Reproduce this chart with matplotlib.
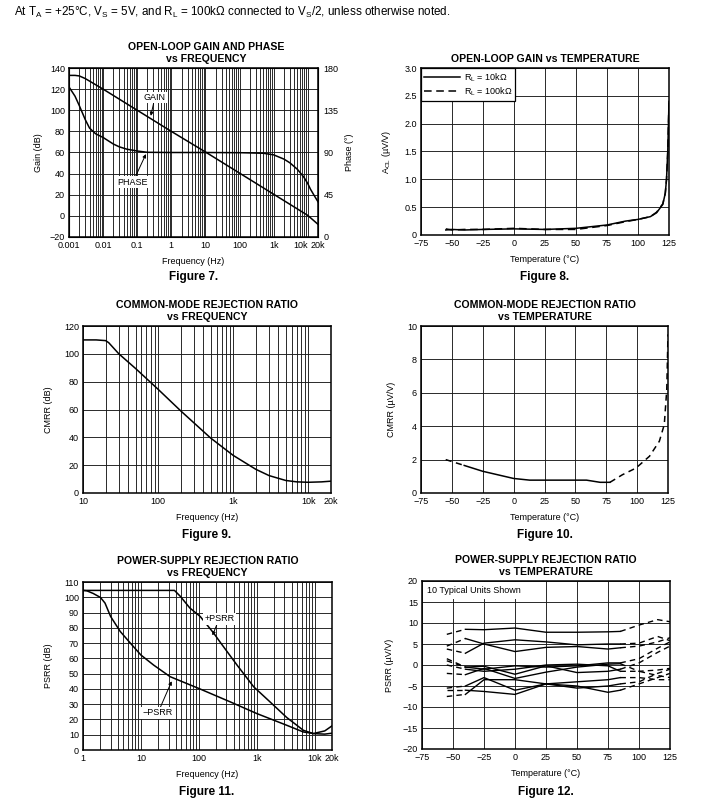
import matplotlib
matplotlib.use("Agg")
import matplotlib.pyplot as plt
from matplotlib.ticker import LogLocator, NullFormatter

plt.rcParams['font.family'] = ['Liberation Sans', 'DejaVu Sans']
plt.rcParams['mathtext.fontset'] = 'custom'
plt.rcParams['mathtext.rm'] = 'Liberation Sans'

# ---- Figure 7: open-loop gain and phase vs frequency
f7_gain = [0.001, 0.0015, 0.002, 0.003, 0.01, 0.1, 1, 10, 100, 1000, 10000, 20000]
gain7 = [133, 133, 132.5, 130, 120, 100, 80, 60.5, 40.5, 20.5, 0.5, -8]
f7_phase = [0.001, 0.0015, 0.002, 0.003, 0.004, 0.006, 0.01, 0.02, 0.03, 0.05, 0.1, 0.2,
            1, 10, 100, 500, 1000, 2000, 3000, 5000, 7600, 10000, 12000, 15000, 20000]
phase7 = [159.8, 150, 140, 125, 116, 110, 106, 99, 96, 93.5, 91.6, 90.2,
          90, 90, 89.8, 89.2, 87.5, 83, 79, 72, 64, 57, 51, 45, 37.5]
f7_ticks = [0.001, 0.01, 0.1, 1, 10, 100, 1000, 10000, 20000]
f7_labels = ['0.001', '0.01', '0.1', '1', '10', '100', '1k', '10k', '20k']

# ---- Figure 8: open-loop gain vs temperature
t8 = [-55, -50, -40, -25, 0, 25, 50, 75, 90, 100, 110, 115, 120, 122, 123, 124, 125]
aol_10k = [0.09, 0.1, 0.09, 0.1, 0.11, 0.1, 0.12, 0.18, 0.25, 0.28, 0.33, 0.4, 0.55, 0.75, 1.0, 1.5, 2.4]
aol_100k = [0.11, 0.09, 0.1, 0.1, 0.12, 0.1, 0.1, 0.17, 0.24, 0.28, 0.33, 0.41, 0.56, 0.75, 1.0, 1.5, 2.4]

# ---- Figure 9: CMRR vs frequency
f9 = [10, 15, 20, 22, 30, 50, 100, 200, 500, 1000, 2000, 3000, 5000, 7000, 10000, 15000, 20000]
cmrr9 = [110, 110, 109.5, 108, 100, 89.5, 74.5, 59, 39.5, 27, 17, 12.5, 9, 8, 7.7, 8, 8.5]

# ---- Figure 10: CMRR vs temperature
t10 = [-55, -40, -25, 0, 13, 59, 70, 78, 88, 99, 110, 118, 122, 124, 125]
cmrr10 = [2.0, 1.65, 1.3, 0.87, 0.77, 0.77, 0.64, 0.64, 1.09, 1.49, 2.2, 3.1, 4.1, 6.2, 9.5]

# ---- Figure 11: PSRR vs frequency
f11_plus = [1, 10, 38, 48, 70, 106, 181, 235, 458, 887, 1700, 3300, 6400, 9600, 15000, 20000]
psrr_plus = [104.5, 104.5, 104.5, 100.6, 93, 87.4, 76.5, 70.5, 55.6, 41.4, 31.5, 21.3, 12.9, 10.7, 10.4, 11]
f11_minus = [1, 1.17, 1.5, 2, 2.4, 3, 4.4, 6.6, 10, 16.6, 32, 106, 350, 1000, 3300, 6400, 9600, 15000, 20000]
psrr_minus = [104.5, 104.2, 102.5, 99.9, 96.2, 87.4, 77.6, 69.9, 62.2, 55.6, 48, 39.9, 31.5, 23.9,
              16.2, 11.8, 10.8, 12.5, 15.8]

# ---- Figure 12: PSRR vs temperature, 10 units
t12 = [-55, -40, -25, 0, 25, 50, 75, 85, 100, 115, 125]
units12 = [
    [7.3, 8.5, 8.4, 8.8, 7.8, 7.8, 7.9, 8.0, 9.5, 10.8, 10.3],
    [4.5, 6.3, 5.0, 3.2, 4.2, 4.4, 3.8, 4.1, 4.5, 5.5, 6.5],
    [3.8, 2.8, 5.2, 6.0, 5.5, 4.8, 5.0, 5.0, 5.2, 6.8, 5.8],
    [1.5, -0.5, -1.0, -0.2, -0.5, -0.2, 0.5, 0.5, 1.5, 4.0, 5.5],
    [1.0, -0.5, -0.3, -2.2, -0.2, -1.8, -1.5, -1.0, 0.5, 3.0, 4.5],
    [-2.0, -2.3, -0.8, -3.2, -1.7, -0.5, 0.2, 0.3, -1.5, -1.2, -0.8],
    [0.0, -1.0, -1.5, -1.0, 0.0, 0.2, -0.2, -1.5, -1.5, -2.5, -3.0],
    [-5.5, -5.0, -3.0, -6.0, -4.5, -5.0, -6.5, -6.0, -4.5, -3.0, -2.0],
    [-7.5, -7.0, -3.5, -3.5, -4.5, -4.0, -3.5, -3.0, -3.0, -3.5, -3.5],
    [-6.0, -6.0, -6.3, -7.0, -4.5, -5.5, -5.0, -4.5, -4.0, -2.0, -1.0],
]

temp_ticks = [-75, -50, -25, 0, 25, 50, 75, 100, 125]
temp_labels = ['−75', '−50', '−25', '0', '25', '50', '75', '100', '125']

TICK = 6.5
LAB = 6.5
TITLE = 7.6
CAP = 8.5
LW = 1.1
GRID_C = '#1a1a1a'

W, H = 701, 808
fig = plt.figure(figsize=(W / 100, H / 100), dpi=100)


def make_ax(x0, y0, x1, y1):
    # pixel box (top-left origin) -> figure axes
    return fig.add_axes([x0 / W, 1 - y1 / H, (x1 - x0) / W, (y1 - y0) / H])


def style(ax, title, tx=0.5):
    ax.set_title(title, fontsize=TITLE, fontweight='bold', pad=4, linespacing=1.25, x=tx)
    ax.tick_params(which='both', length=0, labelsize=TICK, pad=3)
    for s in ax.spines.values():
        s.set_linewidth(1.1)
        s.set_color('k')
    ax.grid(True, which='both', color=GRID_C, lw=0.65)
    ax.set_axisbelow(True)


def log_x(ax, lo, hi, ticks, labels):
    ax.set_xscale('log')
    ax.set_xlim(lo, hi)
    ax.xaxis.set_minor_locator(LogLocator(base=10, subs=range(2, 10), numticks=20))
    ax.xaxis.set_minor_formatter(NullFormatter())
    ax.set_xticks(ticks)
    ax.set_xticklabels(labels)


def temp_x(ax):
    ax.set_xlim(-75, 125)
    ax.set_xticks(temp_ticks)
    ax.set_xticklabels(temp_labels)
    ax.set_xlabel('Temperature (°C)', fontsize=LAB, labelpad=5)


box = dict(facecolor='white', edgecolor='none', pad=1)
arrow = dict(arrowstyle='-|>', color='k', lw=0.7, mutation_scale=5, shrinkA=0, shrinkB=0)

# Figure 7
ax7 = make_ax(69, 68, 318, 237)
style(ax7, 'OPEN-LOOP GAIN AND PHASE\nvs FREQUENCY', tx=(206.5 - 69) / 249)
log_x(ax7, 0.001, 20000, f7_ticks, f7_labels)
ax7.get_xticklabels()[7].set_ha('right')
ax7.set_ylim(-20, 140)
ax7.set_yticks(range(-20, 141, 20))
ax7.set_yticklabels(['−20'] + [str(v) for v in range(0, 141, 20)])
ax7.set_ylabel('Gain (dB)', fontsize=LAB, labelpad=5)
ax7.set_xlabel('Frequency (Hz)', fontsize=LAB, labelpad=5)
ax7.plot(f7_gain, gain7, color='k', lw=LW)
ax7b = ax7.twinx()
ax7b.set_ylim(0, 180)
ax7b.set_yticks([0, 45, 90, 135, 180])
ax7b.tick_params(length=0, labelsize=TICK, pad=4)
ax7b.set_ylabel('Phase (°)', fontsize=LAB, labelpad=5)
ax7b.plot(f7_phase, phase7, color='k', lw=LW)
ax7.annotate('GAIN', xy=(0.25, 94.7), xytext=(0.33, 112), fontsize=LAB, ha='center', va='center',
             bbox=box, arrowprops=arrow)
ax7.annotate('PHASE', xy=(0.18, 58.5), xytext=(0.075, 32), fontsize=LAB, ha='center', va='center',
             bbox=box, arrowprops=arrow)
fig.text(193.5 / W, 1 - 277 / H, 'Figure 7.', fontsize=CAP, fontweight='bold', ha='center', va='center')

# Figure 8
ax8 = make_ax(421, 68, 669, 235)
style(ax8, 'OPEN-LOOP GAIN vs TEMPERATURE')
temp_x(ax8)
ax8.set_ylim(0, 3.0)
ax8.set_yticks([0, 0.5, 1.0, 1.5, 2.0, 2.5, 3.0])
ax8.set_yticklabels(['0', '0.5', '1.0', '1.5', '2.0', '2.5', '3.0'])
ax8.set_ylabel('A$_\\mathregular{OL}$ (µV/V)', fontsize=LAB, labelpad=8)
ax8.plot(t8, aol_10k, color='k', lw=LW, label='R$_\\mathregular{L}$ = 10kΩ')
ax8.plot(t8, aol_100k, color='k', lw=LW, ls=(0, (5, 3)), label='R$_\\mathregular{L}$ = 100kΩ')
leg = ax8.legend(loc='upper left', fontsize=LAB, frameon=True, fancybox=False, borderaxespad=0,
                 handlelength=4.0, handletextpad=0.4, borderpad=0.35, labelspacing=0.2)
leg.get_frame().set_edgecolor('k')
leg.get_frame().set_linewidth(0.9)
leg.get_frame().set_alpha(1)
fig.text(545 / W, 1 - 277 / H, 'Figure 8.', fontsize=CAP, fontweight='bold', ha='center', va='center')

# Figure 9
ax9 = make_ax(83, 326, 331, 493)
style(ax9, 'COMMON-MODE REJECTION RATIO\nvs FREQUENCY')
log_x(ax9, 10, 20000, [10, 100, 1000, 10000, 20000], ['10', '100', '1k', '10k', '20k'])
ax9.set_ylim(0, 120)
ax9.set_yticks(range(0, 121, 20))
ax9.set_ylabel('CMRR (dB)', fontsize=LAB, labelpad=8)
ax9.set_xlabel('Frequency (Hz)', fontsize=LAB, labelpad=5)
ax9.plot(f9, cmrr9, color='k', lw=LW)
fig.text(207 / W, 1 - 535 / H, 'Figure 9.', fontsize=CAP, fontweight='bold', ha='center', va='center')

# Figure 10
ax10 = make_ax(421, 326, 668, 493)
style(ax10, 'COMMON-MODE REJECTION RATIO\nvs TEMPERATURE')
temp_x(ax10)
ax10.set_ylim(0, 10)
ax10.set_yticks(range(0, 11, 2))
ax10.set_ylabel('CMRR (µV/V)', fontsize=LAB, labelpad=8)
ax10.plot(t10[:2], cmrr10[:2], color='k', lw=LW, ls=(0, (4, 3)))
ax10.plot(t10[1:8], cmrr10[1:8], color='k', lw=LW)
ax10.plot(t10[7:], cmrr10[7:], color='k', lw=LW, ls=(0, (4, 3)))
fig.text(545 / W, 1 - 535 / H, 'Figure 10.', fontsize=CAP, fontweight='bold', ha='center', va='center')

# Figure 11
ax11 = make_ax(83, 582, 332, 750)
style(ax11, 'POWER-SUPPLY REJECTION RATIO\nvs FREQUENCY')
log_x(ax11, 1, 20000, [1, 10, 100, 1000, 10000, 20000], ['1', '10', '100', '1k', '10k', '20k'])
ax11.set_ylim(0, 110)
ax11.set_yticks(range(0, 111, 10))
ax11.set_ylabel('PSRR (dB)', fontsize=LAB, labelpad=8)
ax11.set_xlabel('Frequency (Hz)', fontsize=LAB, labelpad=5)
ax11.plot(f11_plus, psrr_plus, color='k', lw=LW)
ax11.plot(f11_minus, psrr_minus, color='k', lw=LW)
ax11.annotate('+PSRR', xy=(172, 75), xytext=(226, 86), fontsize=LAB, ha='center', va='center',
              bbox=box, arrowprops=arrow)
ax11.annotate('−PSRR', xy=(34, 45), xytext=(19.7, 24.3), fontsize=LAB, ha='center', va='center',
              bbox=box, arrowprops=arrow)
fig.text(207 / W, 1 - 792 / H, 'Figure 11.', fontsize=CAP, fontweight='bold', ha='center', va='center')

# Figure 12
ax12 = make_ax(422, 581, 670, 749)
style(ax12, 'POWER-SUPPLY REJECTION RATIO\nvs TEMPERATURE')
temp_x(ax12)
ax12.set_ylim(-20, 20)
ax12.set_yticks(range(-20, 21, 5))
ax12.set_yticklabels([str(v).replace('-', '−') for v in range(-20, 21, 5)])
ax12.set_ylabel('PSRR (µV/V)', fontsize=LAB, labelpad=6)
for u in units12:
    ax12.plot(t12[:2], u[:2], color='k', lw=LW * 0.9, ls=(0, (4, 3)))
    ax12.plot(t12[1:8], u[1:8], color='k', lw=LW * 0.9)
    ax12.plot(t12[7:], u[7:], color='k', lw=LW * 0.9, ls=(0, (4, 3)))
ax12.text(-71, 17.8, '10 Typical Units Shown', fontsize=LAB, ha='left', va='center',
          bbox=dict(facecolor='white', edgecolor='none', pad=3))
fig.text(546 / W, 1 - 792 / H, 'Figure 12.', fontsize=CAP, fontweight='bold', ha='center', va='center')

fig.text(14 / W, 1 - 12 / H,
         'At T$_\\mathregular{A}$ = +25°C, V$_\\mathregular{S}$ = 5V, and R$_\\mathregular{L}$ = 100kΩ '
         'connected to V$_\\mathregular{S}$/2, unless otherwise noted.',
         fontsize=8.4, ha='left', va='center')

fig.savefig('out.png', dpi=100)
